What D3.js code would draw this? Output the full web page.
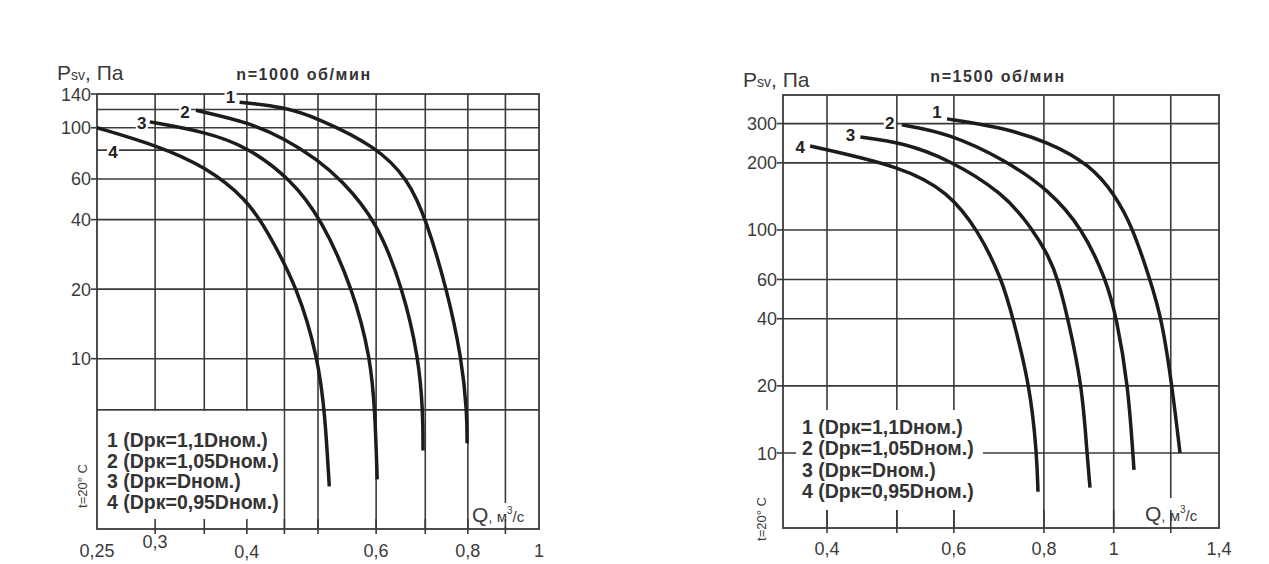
<!DOCTYPE html>
<html><head><meta charset="utf-8">
<script src="https://cdn.jsdelivr.net/npm/d3@7"></script>
<style>
body{margin:0;background:#fff;}
svg{display:block;font-family:"Liberation Sans",Arial,Helvetica,sans-serif;}
</style></head><body>
<svg id="chart" width="1269" height="564"></svg>
<script>
// ---------------- DATA ----------------
const curveNames = ["1", "2", "3", "4"];
const legendLines = ["1 (Dрк=1,1Dном.)", "2 (Dрк=1,05Dном.)", "3 (Dрк=Dном.)", "4 (Dрк=0,95Dном.)"];
const tempLabel = "t=20° C";

// n = 1000 rpm  (Q, м3/с ; Psv, Па)
const n1000Title = "n=1000 об/мин";
const n1000XTicks = [0.25, 0.3, 0.4, 0.6, 0.8, 1];
const n1000XGrid = [0.3, 0.35, 0.4, 0.45, 0.5, 0.6, 0.7, 0.8, 0.9];
const n1000YTicks = [10, 20, 40, 60, 100, 140];
const n1000YGrid = [6, 10, 20, 40, 60, 80, 100, 120];
const n1000Curve1 = [[0.391,129],[0.450,123],[0.500,110],[0.600,83],[0.663,60],[0.702,40],[0.749,20],[0.785,10],[0.798,5.8],[0.798,4.3]];
const n1000Curve2 = [[0.341,119],[0.400,106],[0.450,90],[0.500,72.5],[0.536,60],[0.600,40],[0.653,20],[0.686,10],[0.695,5.8],[0.695,4.0]];
const n1000Curve3 = [[0.295,106],[0.351,96],[0.400,83],[0.459,60],[0.506,40],[0.558,20],[0.590,10],[0.598,5.8],[0.602,3.0]];
const n1000Curve4 = [[0.25,100],[0.301,84],[0.351,68],[0.400,49],[0.426,36],[0.470,20],[0.500,10],[0.511,5.8],[0.518,2.8]];

// n = 1500 rpm
const n1500Title = "n=1500 об/мин";
const n1500XTicks = [0.4, 0.6, 0.8, 1, 1.4];
const n1500XGrid = [0.4, 0.5, 0.6, 0.8, 1, 1.2];
const n1500YTicks = [10, 20, 40, 60, 100, 200, 300];
const n1500YGrid = [10, 20, 40, 60, 100, 200, 300];
const n1500Curve1 = [[0.587,315],[0.695,290],[0.813,248],[0.927,196],[1.004,144],[1.063,102],[1.123,60],[1.166,40],[1.205,20],[1.236,10]];
const n1500Curve2 = [[0.508,296],[0.589,272],[0.707,206],[0.813,151],[0.904,102],[0.976,60],[1.010,40],[1.047,20],[1.063,10],[1.067,8.4]];
const n1500Curve3 = [[0.445,261],[0.510,246],[0.589,208],[0.702,147],[0.770,102],[0.813,76],[0.837,60],[0.864,40],[0.904,20],[0.918,10],[0.927,7.0]];
const n1500Curve4 = [[0.379,238],[0.510,192],[0.589,148],[0.648,100],[0.700,60],[0.725,40],[0.765,20],[0.782,10],[0.785,6.7]];

// ---------------- LAYOUT ----------------
const GRID = "#3a3a3a", INK = "#1c1c1c", TXT = "#3a3a3a";
const svg = d3.select("#chart");
const fmt = d => String(d).replace(".", ",");

const charts = [
  {
    title: n1000Title, curves: [n1000Curve1, n1000Curve2, n1000Curve3, n1000Curve4],
    xTicks: n1000XTicks, xGrid: n1000XGrid, yTicks: n1000YTicks, yGrid: n1000YGrid,
    x0: 97, x1: 539, y0: 94, y1: 529, xDom: [0.25, 1], yDom: [1.83, 140],
    labelOff: [[-9,-5],[-11,2],[-8,1],[16,24]],
    xLabelDy: {0.3: -9, 0.4: 1},
    xLabelBase: 557,
    tickUp: 10,
    legendBox: (x, y, c) => ({x: c.x0 + 1, y: y(6) + 1, w: x(0.45) - c.x0 - 2, h: c.y1 - y(6) - 1}),
    legendX: 107, legendY: 447, legendStep: 20.7,
    tempX: 83, tempY: 486,
    pX: 57, pY: 80, titleX: 304, titleY: 80,
    qBox: {x: 471, y: 503, w: 66, h: 24}, qX: 472, qY: 522
  },
  {
    title: n1500Title, curves: [n1500Curve1, n1500Curve2, n1500Curve3, n1500Curve4],
    xTicks: n1500XTicks, xGrid: n1500XGrid, yTicks: n1500YTicks, yGrid: n1500YGrid,
    x0: 783, x1: 1219, y0: 95, y1: 528, xDom: [0.3475, 1.4], yDom: [4.61, 403],
    labelOff: [[-10,-7],[-12,-2],[-10,-2],[-10,1]],
    xLabelDy: {},
    xLabelBase: 555,
    tickUp: 18,
    legendBox: (x, y, c) => ({x: c.x0 + 13, y: 410, w: 187, h: 100}),
    legendX: 802, legendY: 434, legendStep: 21.3,
    tempX: 762, tempY: 519,
    pX: 743, pY: 87, titleX: 998, titleY: 82,
    qBox: {x: 1143, y: 498, w: 74, h: 29}, qX: 1145, qY: 521
  }
];

charts.forEach(c => {
  const x = d3.scaleLog().domain(c.xDom).range([c.x0, c.x1]);
  const y = d3.scaleLog().domain(c.yDom).range([c.y1, c.y0]);
  const g = svg.append("g");

  // gridlines
  g.selectAll(".vg").data(c.xGrid).join("line")
    .attr("x1", d => x(d)).attr("x2", d => x(d))
    .attr("y1", c.y0).attr("y2", c.y1)
    .attr("stroke", GRID).attr("stroke-width", 1.6);
  g.selectAll(".hg").data(c.yGrid).join("line")
    .attr("x1", c.x0).attr("x2", c.x1)
    .attr("y1", d => y(d)).attr("y2", d => y(d))
    .attr("stroke", GRID).attr("stroke-width", 1.6);

  // legend box & Q-label background
  const lb = c.legendBox(x, y, c);
  g.append("rect").attr("x", lb.x).attr("y", lb.y).attr("width", lb.w).attr("height", lb.h).attr("fill", "#fff");
  g.append("rect").attr("x", c.qBox.x).attr("y", c.qBox.y).attr("width", c.qBox.w).attr("height", c.qBox.h).attr("fill", "#fff");

  // bottom ticks
  g.selectAll(".bt").data(c.xGrid).join("line")
    .attr("x1", d => x(d)).attr("x2", d => x(d))
    .attr("y1", c.y1 - c.tickUp).attr("y2", c.y1 + 5)
    .attr("stroke", GRID).attr("stroke-width", 1.6);
  // left ticks
  g.selectAll(".lt").data(c.yTicks).join("line")
    .attr("x1", c.x0 - 6).attr("x2", c.x0)
    .attr("y1", d => y(d)).attr("y2", d => y(d))
    .attr("stroke", GRID).attr("stroke-width", 1.6);

  // frame
  g.append("rect").attr("x", c.x0).attr("y", c.y0).attr("width", c.x1 - c.x0).attr("height", c.y1 - c.y0)
    .attr("fill", "none").attr("stroke", GRID).attr("stroke-width", 1.8);

  // curves
  const line = d3.line().x(d => x(d[0])).y(d => y(d[1])).curve(d3.curveBasis);
  g.selectAll(".curve").data(c.curves).join("path")
    .attr("d", line).attr("fill", "none").attr("stroke", INK).attr("stroke-width", 3.5);

  // curve labels
  c.curves.forEach((cv, i) => {
    const px = x(cv[0][0]) + c.labelOff[i][0];
    const py = y(cv[0][1]) + c.labelOff[i][1];
    g.append("rect").attr("x", px - 6).attr("y", py - 8).attr("width", 12).attr("height", 16).attr("fill", "#fff");
    g.append("text").attr("x", px).attr("y", py + 6).attr("text-anchor", "middle")
      .attr("font-size", 17).attr("font-weight", "bold").attr("fill", "#222").text(curveNames[i]);
  });

  // y tick labels
  g.selectAll(".yl").data(c.yTicks).join("text")
    .attr("x", c.x0 - 6).attr("y", d => y(d) + 6.5).attr("text-anchor", "end")
    .attr("font-size", 18).attr("fill", TXT).text(d => d);
  // x tick labels
  g.selectAll(".xl").data(c.xTicks).join("text")
    .attr("x", d => x(d)).attr("y", d => c.xLabelBase + (c.xLabelDy[d] || 0)).attr("text-anchor", "middle")
    .attr("font-size", 18).attr("fill", TXT).text(fmt);

  // legend text
  g.selectAll(".lg").data(legendLines).join("text")
    .attr("x", c.legendX).attr("y", (d, i) => c.legendY + i * c.legendStep)
    .attr("font-size", 19.5).attr("font-weight", "bold").attr("fill", "#333").text(d => d);

  // temperature label
  g.append("text").attr("transform", `translate(${c.tempX},${c.tempY}) rotate(-90)`)
    .attr("text-anchor", "middle").attr("dy", 4).attr("font-size", 13).attr("fill", TXT).text(tempLabel);

  // Y axis title
  const pt = g.append("text").attr("x", c.pX).attr("y", c.pY).attr("fill", TXT);
  pt.append("tspan").attr("font-size", 21).text("P");
  pt.append("tspan").attr("font-size", 14).text("sv");
  pt.append("tspan").attr("font-size", 21).text(", Па");

  // chart title
  g.append("text").attr("x", c.titleX).attr("y", c.titleY).attr("text-anchor", "middle")
    .attr("font-size", 16).attr("font-weight", "bold").attr("letter-spacing", 1.6).attr("fill", "#333").text(c.title);

  // X axis title
  const qt = g.append("text").attr("x", c.qX).attr("y", c.qY).attr("fill", TXT);
  qt.append("tspan").attr("font-size", 21).text("Q");
  qt.append("tspan").attr("font-size", 15).text(", м");
  qt.append("tspan").attr("font-size", 10).attr("dy", -8).text("3");
  qt.append("tspan").attr("font-size", 15).attr("dy", 8).text("/с");
});
</script>
</body></html>
